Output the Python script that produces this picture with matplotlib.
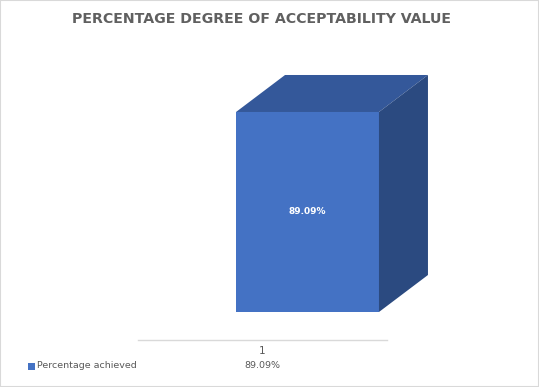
import matplotlib
matplotlib.use("Agg")
import matplotlib.pyplot as plt
from matplotlib.patches import Polygon, Rectangle
import matplotlib.transforms as mtransforms

# Data
categories = ["1"]
series_name = "Percentage achieved"
values = [89.09]
value_labels = ["89.09%"]
title = "PERCENTAGE DEGREE OF ACCEPTABILITY VALUE"

# Style
FRONT = "#4472C4"
TOP = "#34589A"
SIDE = "#2B4A80"
GRAY = "#595959"
LINE = "#D9D9D9"
W, H, DPI = 539, 387, 100

fig = plt.figure(figsize=(W / DPI, H / DPI), dpi=DPI)
fig.patch.set_facecolor("white")
fig.add_artist(Rectangle((0, 0), 1, 1, transform=fig.transFigure, fill=False,
                         edgecolor=LINE, linewidth=1.5))

ax = fig.add_axes([138 / W, 1 - 340 / H, 249 / W, 224.5 / H])
ax.set_xlim(-0.5, 0.5)
ax.set_ylim(0, 100)
ax.patch.set_alpha(0)
for s in ["top", "right", "left"]:
    ax.spines[s].set_visible(False)
ax.spines["bottom"].set_color(LINE)
ax.spines["bottom"].set_linewidth(1.0)
ax.set_yticks([])
xpos = list(range(len(categories)))
ax.set_xticks(xpos)
ax.set_xticklabels(categories, fontsize=7.5, color=GRAY, family="DejaVu Sans")
ax.tick_params(axis="x", length=0, pad=4.5)

# 3D-like bar: front face shifted back into depth
shift = mtransforms.ScaledTranslation(45 / DPI, 28 / DPI, fig.dpi_scale_trans)
bar_tr = ax.transData + shift
depth = mtransforms.ScaledTranslation(49 / DPI, 37 / DPI, fig.dpi_scale_trans)
depth_tr = bar_tr + depth
bw = 0.574
for x, v, lab in zip(xpos, values, value_labels):
    x0, x1 = x - bw / 2, x + bw / 2
    fl = bar_tr.transform((x0, v))
    fr = bar_tr.transform((x1, v))
    frb = bar_tr.transform((x1, 0))
    bl = depth_tr.transform((x0, v))
    br = depth_tr.transform((x1, v))
    brb = depth_tr.transform((x1, 0))
    top = Polygon([fl, fr, br, bl], closed=True, transform=None,
                  facecolor=TOP, edgecolor="none")
    side = Polygon([fr, br, brb, frb], closed=True, transform=None,
                   facecolor=SIDE, edgecolor="none")
    fig.add_artist(top)
    fig.add_artist(side)
    ax.bar([x], [v], width=bw, color=FRONT, transform=bar_tr, zorder=3,
           clip_on=False)
    ax.text(x, v / 2, lab, transform=bar_tr, ha="center", va="center",
            color="white", fontsize=6.5, fontweight="bold", zorder=5)

# Title
fig.text(261 / W, 1 - 19 / H, title, ha="center", va="center", fontsize=10.2,
         color="#606060", fontweight="bold", family="DejaVu Sans")

# Data table row
row_y = 1 - 366 / H
fig.add_artist(Rectangle((28 / W, row_y - 3.5 / H), 7 / W, 7 / H,
                         transform=fig.transFigure, facecolor=FRONT,
                         edgecolor="none"))
fig.text(37 / W, row_y, series_name, ha="left", va="center", fontsize=6.8,
         color=GRAY, family="DejaVu Sans")
for x, lab in zip(xpos, value_labels):
    fx = fig.transFigure.inverted().transform(ax.transData.transform((x, 0)))[0]
    fig.text(fx, row_y, lab, ha="center", va="center", fontsize=6.8,
             color=GRAY, family="DejaVu Sans")

fig.savefig("out.png", dpi=DPI)
